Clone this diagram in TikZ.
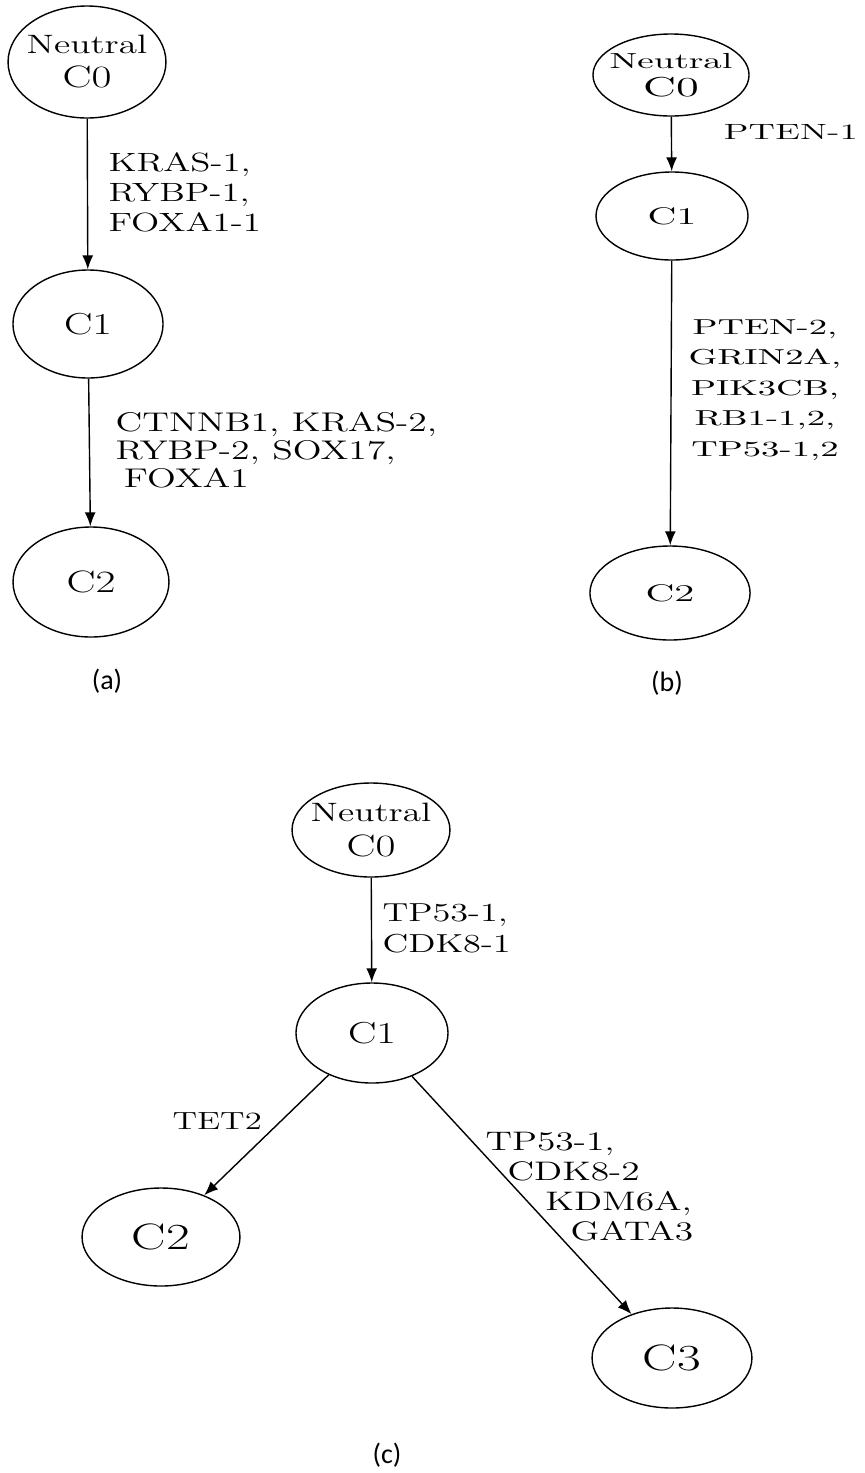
\documentclass[tikz,border=0pt]{standalone}
\usepackage{fontspec}
\newfontfamily\capfont{Carlito}
\usetikzlibrary{shapes.geometric,arrows.meta}
\newcommand{\fs}[2]{\fontsize{#1}{#2}\selectfont}

\begin{document}
\begin{tikzpicture}[x=.5pt,y=-.5pt,
  st/.style={ellipse,draw,line width=.7pt,inner xsep=-6pt,inner ysep=0pt,align=center},
  lb/.style={inner sep=0pt,anchor=west,align=left},
  edge/.style={line width=.7pt,-{Latex[length=7pt,width=5.5pt]}}]
\useasboundingbox (0,0) rectangle (865,1473);

% (a)
\node[st,xscale=1.4,minimum width=56.4pt,minimum height=56pt,font=\fs{13.3}{17}] (a0) at (87,62) {Neutral\\\fs{15.5}{17}C0};
\node[st,xscale=1.4,minimum width=53.6pt,minimum height=54pt,font=\fs{15.2}{17}] (a1) at (88,324) {C1};
\node[st,xscale=1.4,minimum width=55.7pt,minimum height=55pt,font=\fs{15.5}{17}] (a2) at (91,582) {C2};
\draw[edge] (a0) -- (a1);
\draw[edge] (a1) -- (a2);
\node[lb,xscale=1.4,font=\fs{13.2}{15}] (ma1) at (108,192) {KRAS-1,\\RYBP-1,\\FOXA1-1};
\node[lb,xscale=1.4,font=\fs{13.5}{14}] (ma2) at (115,450) {CTNNB1, KRAS-2,\\RYBP-2, SOX17,\\\hspace*{3pt}FOXA1};

% (b)
\node[st,xscale=1.7,minimum width=45.9pt,minimum height=41pt,font=\fs{10.9}{14}] (b0) at (671,75) {Neutral\\\fs{13.7}{14}C0};
\node[st,xscale=1.7,minimum width=44.7pt,minimum height=44pt,font=\fs{12}{14}] (b1) at (672,216) {C1};
\node[st,xscale=1.7,minimum width=47.1pt,minimum height=47pt,font=\fs{12}{14}] (b2) at (670,593) {C2};
\draw[edge] (b0) -- (b1);
\draw[edge] (b1) -- (b2);
\node[lb,xscale=1.7,font=\fs{11}{14}] (mb1) at (723,132) {PTEN-1};
\node[inner sep=0pt,align=center,xscale=1.7,font=\fs{10.8}{15.2}] (mb2) at (765,390) {PTEN-2,\\GRIN2A,\\PIK3CB,\\RB1-1,2,\\TP53-1,2};

% (c)
\node[st,xscale=1.4,minimum width=56.4pt,minimum height=47pt,font=\fs{13.3}{17.5}] (c0) at (371,830) {Neutral\\\fs{15.5}{17.5}C0};
\node[st,xscale=1.4,minimum width=54.3pt,minimum height=50pt,font=\fs{15.2}{17}] (c1) at (372,1033) {C1};
\node[st,xscale=1.4,minimum width=56.4pt,minimum height=49pt,font=\fs{18.4}{20}] (c2) at (161,1237) {C2};
\node[st,xscale=1.4,minimum width=57.1pt,minimum height=50pt,font=\fs{18.4}{20}] (c3) at (672,1358) {C3};
\draw[edge] (c0) -- (c1);
\draw[edge] (c1) -- (c2);
\draw[edge] (c1) -- (c3);
\node[lb,xscale=1.4,font=\fs{13}{15.5}] (mc1) at (382,928) {TP53-1,\\CDK8-1};
\node[lb,xscale=1.4,font=\fs{12.4}{15}] (mc2) at (172,1121) {TET2};
\node[lb,xscale=1.4,font=\fs{13.4}{15}] (mc3) at (485,1187) {TP53-1,\\\hspace*{7.9pt}CDK8-2\\\hspace*{21.4pt}KDM6A,\\\hspace*{30.4pt}GATA3};

\foreach \n/\x/\y in {a/107/681,b/667/683,c/387/1455}
  \node[font=\capfont\fs{14}{16}] (cap\n) at (\x,\y) {(\n)};
\end{tikzpicture}
\end{document}
